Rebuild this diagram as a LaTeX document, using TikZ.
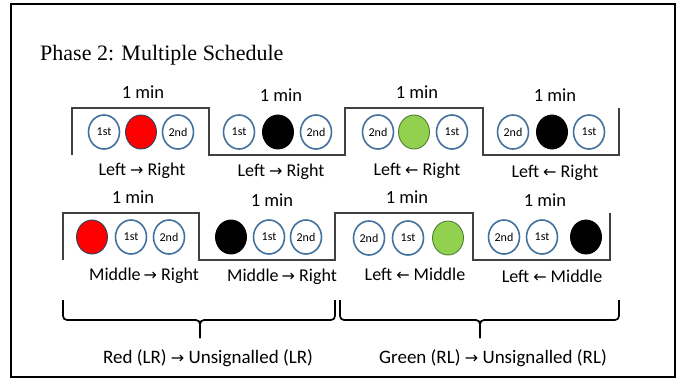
\documentclass[tikz,border=0pt]{standalone}
\usepackage{fontspec}
\usetikzlibrary{shapes.geometric}
\setmainfont{Carlito}
\newfontfamily\titlefont{Liberation Serif}
\newfontfamily\arrowfont{DejaVu Sans}
\newcommand{\ra}{{\arrowfont\fontsize{16}{16}\selectfont →}}
\newcommand{\la}{{\arrowfont\fontsize{16}{16}\selectfont ←}}
\definecolor{cblue}{HTML}{41719C}
\definecolor{cred}{HTML}{FF0000}
\definecolor{cgreen}{HTML}{92D050}
\definecolor{cgreenedge}{HTML}{507E32}
\definecolor{stepcol}{HTML}{404040}
\begin{document}
\begin{tikzpicture}[x=1pt,y=-1pt,
  oval/.style={ellipse, minimum width=31pt, minimum height=34pt, inner sep=0pt},
  ring/.style={oval, draw=cblue, line width=1.6pt, fill=white, font=\fontsize{12}{12}\selectfont},
  redc/.style={oval, draw=cblue!60!black, line width=0.9pt, fill=cred},
  greenc/.style={oval, draw=cgreenedge, line width=0.9pt, fill=cgreen},
  blackc/.style={oval, draw=black, line width=0.9pt, fill=black},
  minlbl/.style={anchor=base, font=\fontsize{18.5}{18.5}\selectfont, inner sep=0pt},
  dirlbl/.style={anchor=base, font=\fontsize{18}{18}\selectfont, inner sep=0pt},
  botlbl/.style={anchor=base, font=\fontsize{19}{19}\selectfont, inner sep=0pt},
  steppath/.style={draw=stepcol, line width=1.5pt},
  bracepath/.style={draw=black, line width=1.7pt, rounded corners=4pt}
]
\useasboundingbox (0,0) rectangle (685,381);
\fill[white] (0,0) rectangle (685,381);
\draw[line width=2.2pt] (11,4) rectangle (675,377);

\node[anchor=base west, font=\titlefont\fontsize{22}{22}\selectfont, inner sep=0pt] (title) at (40,60) {Phase 2: Multiple Schedule};

% Row 1 step line
\draw[steppath] (72,155) -- (72,108) -- (209,108) -- (209,155) -- (345,155) -- (345,108) -- (483,108) -- (483,155) -- (619,155) -- (619,108);
% Row 2 step line
\draw[steppath] (63,260) -- (63,213) -- (199,213) -- (199,260) -- (335,260) -- (335,213) -- (473,213) -- (473,260) -- (610,260) -- (610,213);

% Row 1 circles
\node[ring] (a1) at (104,132) {1st};
\node[redc] (a2) at (141,132) {};
\node[ring] (a3) at (178,132) {2nd};
\node[ring] (b1) at (239,132) {1st};
\node[blackc] (b2) at (278,132) {};
\node[ring] (b3) at (316,132) {2nd};
\node[ring] (c1) at (378,132) {2nd};
\node[greenc] (c2) at (414,132) {};
\node[ring] (c3) at (452,132) {1st};
\node[ring] (d1) at (513,132) {2nd};
\node[blackc] (d2) at (552,132) {};
\node[ring] (d3) at (589,132) {1st};

% Row 2 circles
\node[redc] (e1) at (92,237) {};
\node[ring] (e2) at (131,237) {1st};
\node[ring] (e3) at (169,237) {2nd};
\node[blackc] (f1) at (231,237) {};
\node[ring] (f2) at (269,237) {1st};
\node[ring] (f3) at (306,237) {2nd};
\node[ring] (g1) at (369,238) {2nd};
\node[ring] (g2) at (408,238) {1st};
\node[greenc] (g3) at (448,238) {};
\node[ring] (h1) at (504,237) {2nd};
\node[ring] (h2) at (542,237) {1st};
\node[blackc] (h3) at (586,237) {};

% Row 1 labels
\node[minlbl] (m1) at (143,98) {1 min};
\node[minlbl] (m2) at (281,101) {1 min};
\node[minlbl] (m3) at (417,98) {1 min};
\node[minlbl] (m4) at (555,101) {1 min};
\node[dirlbl] (l1) at (142,175) {Left \ra{} Right};
\node[dirlbl] (l2) at (281,176) {Left \ra{} Right};
\node[dirlbl] (l3) at (417,175) {Left \la{} Right};
\node[dirlbl] (l4) at (555,177) {Left \la{} Right};

% Row 2 labels
\node[minlbl] (m5) at (133,203) {1 min};
\node[minlbl] (m6) at (272,206) {1 min};
\node[minlbl] (m7) at (407,203) {1 min};
\node[minlbl] (m8) at (545,206) {1 min};
\node[dirlbl] (l5) at (144,280) {Middle\,\ra{} Right};
\node[dirlbl] (l6) at (282,281) {Middle\,\ra{} Right};
\node[dirlbl] (l7) at (415,280) {Left \la{} Middle};
\node[dirlbl] (l8) at (552,282) {Left \la{} Middle};

% Braces
\draw[bracepath] (63,300) |- (200,320) -- (200,338);
\draw[bracepath] (200,338) -- (200,320) -| (335,300);
\draw[bracepath] (340,300) |- (480,320) -- (480,338);
\draw[bracepath] (480,338) -- (480,320) -| (619,300);

\node[botlbl] (r1) at (208,363) {Red (LR) \ra{} Unsignalled (LR)};
\node[botlbl] (r2) at (493,363) {Green (RL) \ra{} Unsignalled (RL)};
\end{tikzpicture}
\end{document}
